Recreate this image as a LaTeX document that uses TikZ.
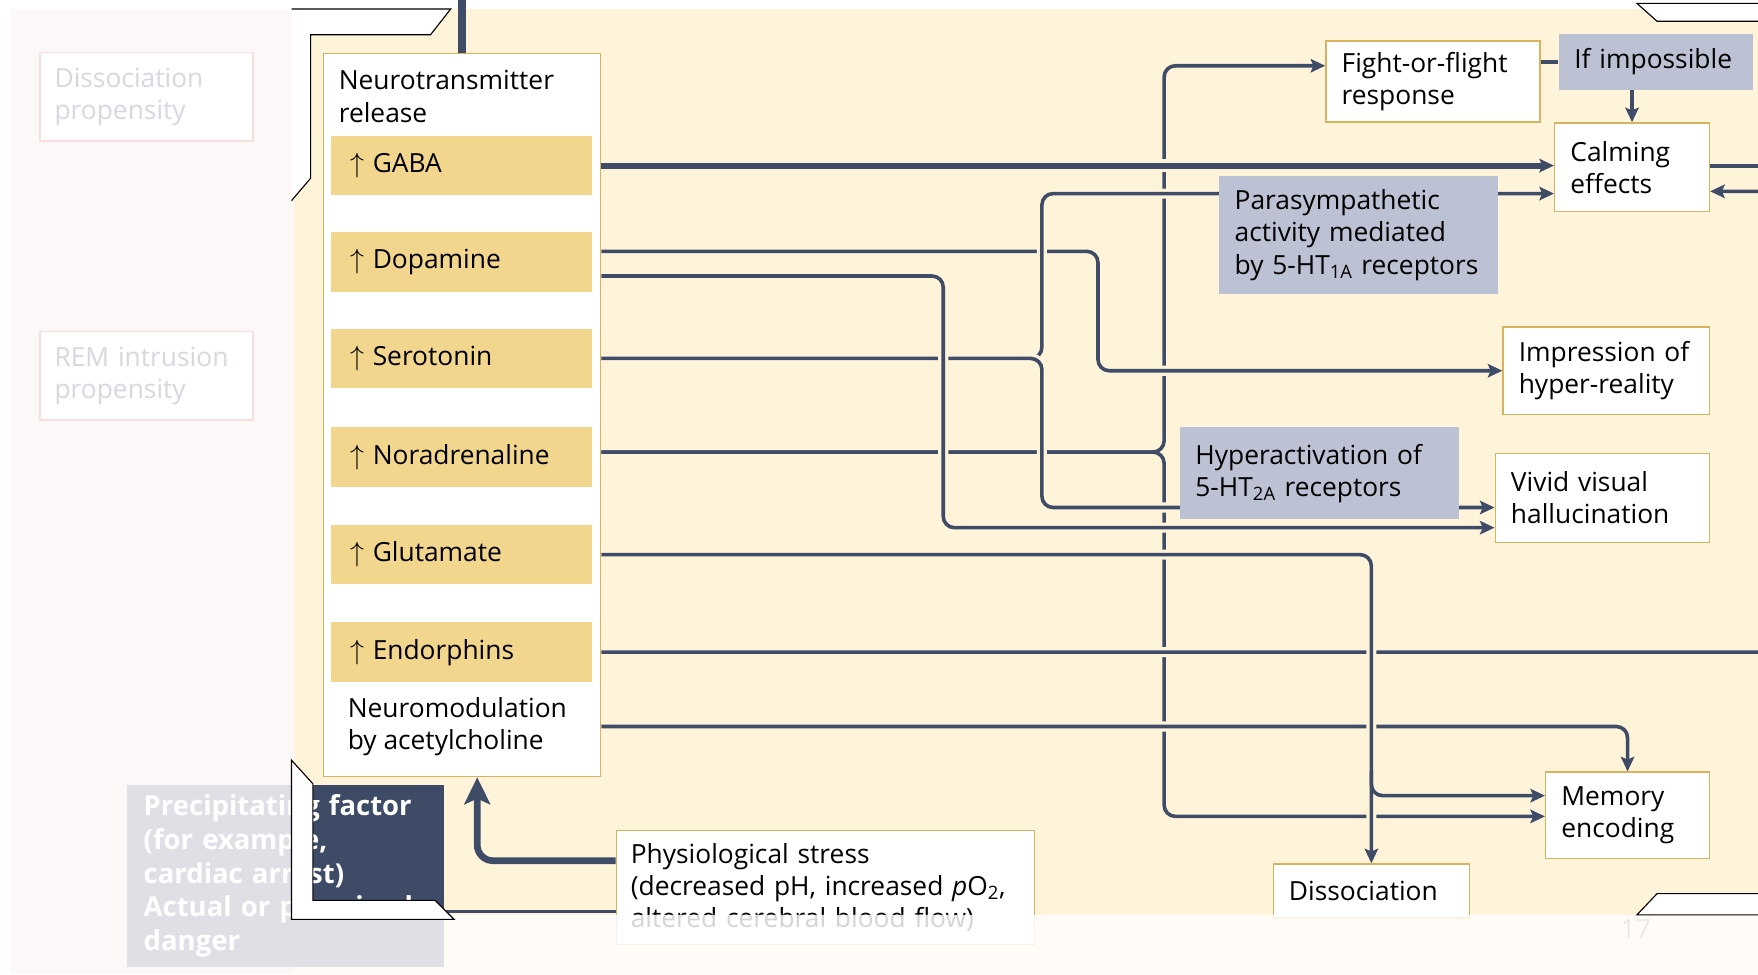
\documentclass[tikz,border=0pt]{standalone}
\usepackage{fontspec}
\setmainfont{Open Sans}
\usetikzlibrary{arrows.meta,backgrounds}
\definecolor{cream}{HTML}{FFF3D9}
\definecolor{linecol}{HTML}{3E4C68}
\definecolor{barfill}{HTML}{F2D68D}
\definecolor{boxline}{HTML}{D8B25E}
\definecolor{greyfill}{HTML}{BCC2D3}
\definecolor{panel}{HTML}{F9D6D6}
\definecolor{propline}{HTML}{DC3D49}
\definecolor{proptext}{HTML}{10194A}
\definecolor{navy}{HTML}{3E4B67}
\definecolor{pagenum}{HTML}{ECE9E3}
\newcommand{\mup}{$\uparrow$ }

\begin{document}
\begin{tikzpicture}[x=1pt,y=-1pt,font=\fontsize{23.5}{28.7}\selectfont]
    \tikzstyle{box}=[draw=boxline,fill=white,line width=1.3pt,anchor=north west,inner xsep=14pt,inner ysep=0pt,align=left]
    \tikzstyle{greybox}=[fill=greyfill,anchor=north west,inner xsep=14pt,inner ysep=0pt,align=left]
    \tikzstyle{bar}=[fill=barfill,anchor=north west,minimum width=233pt,minimum height=53pt,inner xsep=17pt,text width=199pt,align=left]
    \tikzstyle{propbox}=[draw=propline,fill=white,line width=1.3pt,text=proptext,anchor=north west,inner xsep=13pt,inner ysep=0pt,text width=164pt,minimum height=79pt,align=left]
    \tikzstyle{link}=[draw=linecol,line width=3.2pt,rounded corners=10pt]
    \tikzstyle{tip}=[-{Stealth[length=13pt,width=12pt,inset=2.5pt]}]
    \tikzstyle{over}=[preaction={draw=cream,line width=9pt,-}]
    \tikzstyle{corner}=[fill=white,draw=black,line width=1pt]

    \useasboundingbox (0,0) rectangle (1568,869);
    \clip (0,0) rectangle (1568,869);

    % left column
    \node[propbox] (dprop) at (35,46) {Dissociation\\propensity};
    \node[propbox] (rprop) at (35,295) {REM intrusion\\propensity};
    \node[fill=navy,text=white,font=\fontsize{24.5}{30}\selectfont\bfseries,anchor=north west,
          inner xsep=15pt,inner ysep=0pt,text width=253pt,minimum height=162pt,align=left] (precip) at (113,700)
          {Precipitating factor\\(for example,\\cardiac arrest)\\Actual or perceived\\danger};

    % neurotransmitters
    \node[box,minimum width=247pt,minimum height=645pt] (nt) at (288,47) {};
    \node[anchor=west,align=left,inner sep=0pt] (nttitle) at (302,86) {Neurotransmitter\\release};
    \node[bar] (gaba) at (295,121) {\mup GABA};
    \node[bar] (dop) at (295,207) {\mup Dopamine};
    \node[bar] (sero) at (295,293) {\mup Serotonin};
    \node[bar] (nor) at (295,381) {\mup Noradrenaline};
    \node[bar] (glut) at (295,468) {\mup Glutamate};
    \node[bar] (endo) at (295,555) {\mup Endorphins};
    \node[anchor=west,align=left,inner sep=0pt] (ach) at (310,648) {Neuromodulation\\by acetylcholine};

    % effects
    \node[box,text width=163pt,minimum height=72pt] (fight) at (1182,36) {Fight-or-flight\\response};
    \node[greybox,text width=145pt,minimum height=50pt] (impos) at (1390,30) {If impossible};
    \node[box,text width=110pt,minimum height=79pt] (calm) at (1386,109) {Calming\\effects};
    \node[greybox,text width=221pt,minimum height=105pt] (para) at (1087,157)
          {Parasympathetic\\activity mediated\\by 5-HT\textsubscript{1A} receptors};
    \node[box,text width=156pt,minimum height=78pt] (hyper) at (1340,291) {Impression of\\hyper-reality};
    \node[greybox,text width=221pt,minimum height=82pt] (hyperact) at (1052,381)
          {Hyperactivation of\\5-HT\textsubscript{2A} receptors};
    \node[box,text width=163pt,minimum height=79pt] (vivid) at (1333,404) {Vivid visual\\hallucination};
    \node[box,text width=118pt,minimum height=77pt] (mem) at (1378,688) {Memory\\encoding};
    \node[box,text width=147pt,minimum height=48pt] (dissoc) at (1135,770) {Dissociation};
    \node[box,inner xsep=13pt,text width=347pt,minimum height=102pt] (stress) at (549,740)
          {Physiological stress\\(decreased pH, increased \textit{p}O\textsubscript{2},\\altered cerebral blood flow)};

    \begin{scope}[on background layer]
        \fill[white] (0,0) rectangle (1568,869);
        \fill[panel] (10,8) rectangle (262,869);
        \fill[cream] (262,8) rectangle (1568,869);

        % noradrenaline (lowest)
        \draw[link,tip] ([yshift=4.5pt]nor.east -| nt.east) -- ++(502,0) |- ([yshift=14pt]fight.west);
        \draw[link,tip] ([yshift=4.5pt]nor.east -| nt.east) -- ++(502,0) |- ([yshift=-1pt]mem.west);
        % dopamine, upper
        \draw[link,over,tip] ([yshift=9.5pt]dop.east -| nt.east) -- ++(443,0) |- (hyper.west);
        % serotonin
        \draw[link,over,tip] (nt.east |- sero.east) -- ++(393,0) |- ([yshift=-23.5pt]calm.west);
        \draw[link,over,tip] (nt.east |- sero.east) -- ++(393,0) |- ([yshift=-8.5pt]vivid.west);
        % dopamine, lower
        \draw[link,over,tip] ([yshift=-12.5pt]dop.east -| nt.east) -- ++(305,0) |- ([yshift=-26.5pt]vivid.west);
        % gaba
        \draw[link,line width=5.5pt,preaction={draw=cream,line width=11.5pt,-},tip] (nt.east |- gaba.east) -- (calm.west |- gaba.east);
        \draw[link,line width=3.5pt] (calm.east |- gaba.east) -- ++(70,0);
        % endorphins
        \draw[link,over,tip] (nt.east |- endo.east) -- ++(1043,0) |- ([yshift=-21.5pt]calm.east);
        % acetylcholine
        \draw[link,over,tip] (nt.east |- ach) -| (mem.north);
        % glutamate
        \draw[link,over,tip] (nt.east |- glut.east) -| (dissoc.north);
        \draw[link,tip] (dissoc.north |- mem.north) |- ([yshift=17.5pt]mem.west);

        \draw[link] (fight.east |- impos.west) -- (impos.west);
        \draw[link,tip] (calm.north |- impos.south) -- (calm.north);

        \draw[linecol,line width=7pt] (nt.north) -- ++(0,-50);
        \draw[link,line width=6pt,rounded corners=14pt,-{Stealth[length=24pt,width=23pt,inset=5pt]}]
              ([yshift=24pt]stress.west) -| ([xshift=13.5pt]nt.south);
        \draw[link,line width=2.4pt] ([yshift=-32pt]precip.east) -- ([yshift=-32pt]precip.east -| stress.west);
    \end{scope}

    % faded parts of the slide
    \fill[white,fill opacity=0.83] (10,8) rectangle (262,869) (262,816) rectangle (1568,869);
    \fill[white] (260,8) -- (402,8) -- (384,31) -- (277,31) -- (277,159) -- (260,179) -- cycle;
    \draw[black,line width=1pt] (260,8) -- (402,8) -- (384,31) -- (277,31) -- (277,159) -- (260,179);
    \filldraw[corner] (260,678) -- (279,699) -- (279,803) -- (388,803) -- (405,820) -- (260,820) -- cycle;
    \filldraw[corner] (1460,3) -- (1572,3) -- (1572,19) -- (1478,19) -- cycle;
    \filldraw[corner] (1478,797) -- (1572,797) -- (1572,816) -- (1460,816) -- cycle;
    \node[text=pagenum] (pnum) at (1459,829) {17};
\end{tikzpicture}
\end{document}
